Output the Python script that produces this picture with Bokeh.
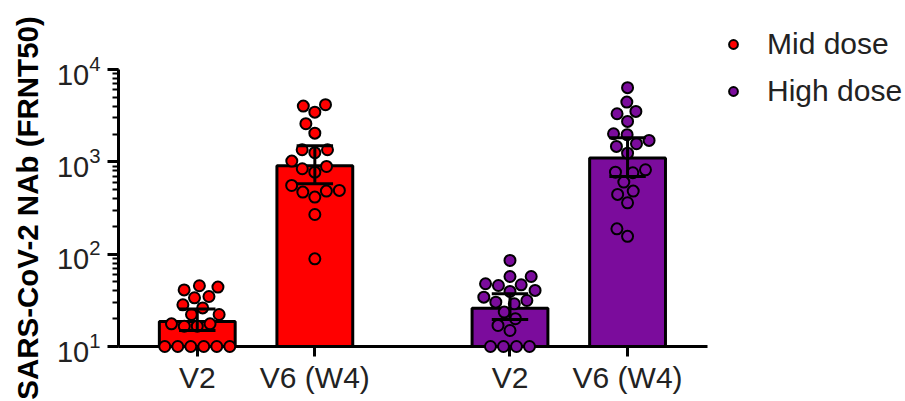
import math
from bokeh.plotting import figure
from bokeh.models import Range1d, FixedTicker, Legend, LegendItem
from bokeh.embed import file_html
from bokeh.resources import INLINE

# ---------------- data ----------------
groups = ["Mid dose V2", "Mid dose V6 (W4)", "High dose V2", "High dose V6 (W4)"]
tick_labels = ["V2", "V6 (W4)", "V2", "V6 (W4)"]
doses = ["Mid dose", "Mid dose", "High dose", "High dose"]

mid_v2 = [10, 10, 10, 10, 10, 10, 16.6, 16.6, 17.6, 17.6, 22.2, 22.2,
          26.2, 28.3, 33.7, 34.8, 41, 44, 45.5]
mid_v6 = [4012, 4155, 3452, 2588, 2046, 1352, 1352, 1256, 1019, 891, 841,
          773, 555, 482, 470, 490, 415, 269, 89]
high_v2 = [85.5, 57.3, 57.3, 47.8, 46.6, 45.8, 39.5, 40.5, 34.2, 30.2, 31.5,
           29, 23.6, 20, 16.9, 14.9, 10, 10, 10, 10]
high_v6 = [6353, 4436, 3516, 3319, 2741, 1968, 2015, 1706, 1572, 1469, 1242,
           820, 773, 762, 603, 482, 444, 360, 188, 156]

gmt = [18.7, 908, 26, 1097]          # bar heights (geometric mean titre)
ci_low = [14.9, 580, 19.6, 692]      # error bar lower
ci_high = [25.4, 1493, 37.3, 1820]   # error bar upper

series = [mid_v2, mid_v6, high_v2, high_v6]

# ---------------- layout / style ----------------
RED = "#FF0000"
PURPLE = "#7B0C9C"
colors = [RED, RED, PURPLE, PURPLE]
xpos = [1, 2, 3.66, 4.66]
X0, X1 = 0.33, 5.34
Y0, Y1 = 10, 10000

FW, FH = 589, 277
BL, BR, BT, BB = 118, 198, 69, 55
px_x = FW / (X1 - X0)
px_dec = FH / (math.log10(Y1) - math.log10(Y0))
DOT = 13.0  # visual dot diameter in px


def beeswarm(vals):
    ys = [math.log10(v) * px_dec for v in vals]
    n = len(vals)
    xs = [0.0] * n
    placed = []
    done = set()
    counts = {}
    for i, v in enumerate(vals):
        counts.setdefault(v, []).append(i)
    for v, idx in counts.items():
        if len(idx) >= 3:
            m = len(idx)
            for k, i in enumerate(idx):
                xs[i] = (k - (m - 1) / 2) * DOT
                placed.append((xs[i], ys[i]))
                done.add(i)
    order = sorted([i for i in range(n) if i not in done], key=lambda i: ys[i])
    for i in order:
        y = ys[i]
        cands = [0.0]
        for (qx, qy) in placed:
            dy = abs(y - qy)
            if dy < DOT:
                dx = math.sqrt(DOT * DOT - dy * dy)
                cands += [qx + dx, qx - dx]
        cands.sort(key=lambda c: (abs(c), c))
        for c in cands:
            if all((c - qx) ** 2 + (y - qy) ** 2 >= DOT * DOT - 1e-6 for qx, qy in placed):
                xs[i] = c
                break
        placed.append((xs[i], y))
    return [x / px_x for x in xs]


p = figure(frame_width=FW, frame_height=FH, x_range=Range1d(X0, X1),
           y_range=Range1d(Y0, Y1), y_axis_type="log", output_backend="svg",
           toolbar_location=None, min_border_left=BL, min_border_right=BR,
           min_border_top=BT, min_border_bottom=BB)
p.outline_line_color = None
p.xgrid.visible = False
p.ygrid.visible = False
p.background_fill_color = "white"

# bars
p.vbar(x=xpos, top=gmt, bottom=Y0, width=0.645, fill_color=colors,
       line_color="black", line_width=3)

# points
renderers = {}
for dose, col in [("Mid dose", RED), ("High dose", PURPLE)]:
    xs, ys = [], []
    for g, vals in enumerate(series):
        if doses[g] != dose:
            continue
        offs = beeswarm(vals)
        xs += [xpos[g] + o for o in offs]
        ys += vals
    renderers[dose] = p.scatter(xs, ys, size=11, fill_color=col, line_color="black",
                                line_width=2, level="annotation")

# error bars
cap = 0.155
p.segment(x0=xpos, y0=ci_low, x1=xpos, y1=ci_high, line_color="black",
          line_width=3, level="annotation")
p.segment(x0=[x - cap for x in xpos], y0=ci_high, x1=[x + cap for x in xpos],
          y1=ci_high, line_color="black", line_width=3, level="annotation")
p.segment(x0=[x - cap for x in xpos], y0=ci_low, x1=[x + cap for x in xpos],
          y1=ci_low, line_color="black", line_width=3, level="annotation")

FONT = "Liberation Sans"
# x axis
xa = p.xaxis[0]
xa.ticker = FixedTicker(ticks=xpos, minor_ticks=[])
xa.major_label_overrides = {x: l for x, l in zip(xpos, tick_labels)}
xa.axis_line_width = 3
xa.major_tick_line_width = 3
xa.major_tick_in = 0
xa.major_tick_out = 10
xa.minor_tick_line_color = None
xa.major_label_text_font = FONT
xa.major_label_text_font_size = "30px"
xa.major_label_text_color = "#222222"
xa.major_label_standoff = 4

# y axis
ya = p.yaxis[0]
ya.axis_line_width = 3
ya.major_tick_line_width = 3
ya.major_tick_in = 0
ya.major_tick_out = 11
ya.minor_tick_in = 0
ya.minor_tick_out = 6
ya.minor_tick_line_width = 2
ya.major_label_text_font = FONT
ya.major_label_text_font_size = "29px"
ya.major_label_text_color = "#222222"
ya.major_label_standoff = 7
ya.axis_label = "SARS-CoV-2 NAb (FRNT50)"
ya.axis_label_text_font = FONT
ya.axis_label_text_font_size = "29.5px"
ya.axis_label_text_font_style = "bold"
ya.axis_label_text_color = "black"
ya.axis_label_standoff = 10

legend = Legend(items=[LegendItem(label="Mid dose", renderers=[renderers["Mid dose"]]),
                       LegendItem(label="High dose", renderers=[renderers["High dose"]])],
                location=(15, 238), glyph_width=22, glyph_height=22,
                label_standoff=23, spacing=13, padding=0, margin=0,
                border_line_alpha=0, background_fill_alpha=0,
                label_text_font=FONT, label_text_font_size="30px",
                label_text_color="#222222")
p.add_layout(legend, "right")

open("out.html", "w").write(file_html(p, INLINE))
